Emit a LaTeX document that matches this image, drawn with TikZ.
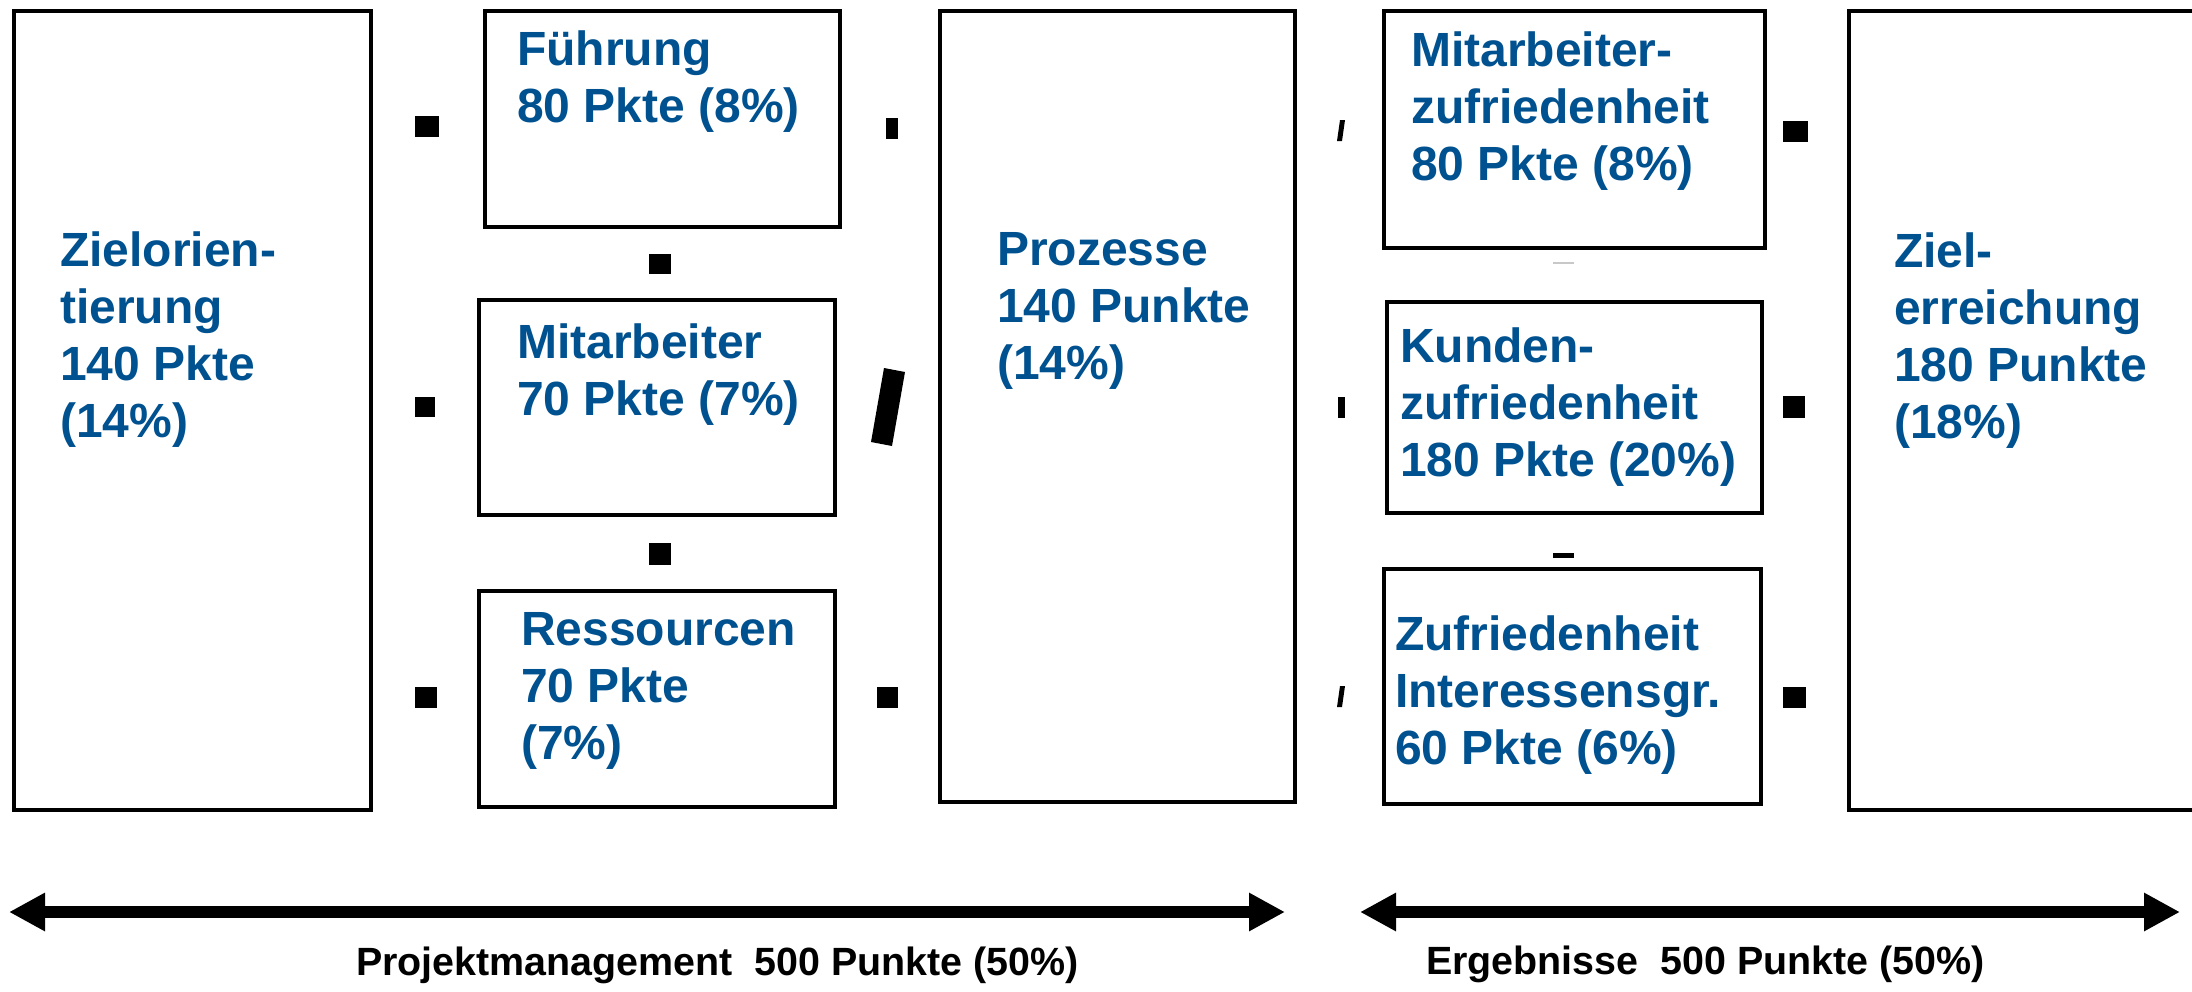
\documentclass[tikz,border=0pt]{standalone}
\usepackage{fontspec}
\setmainfont{Liberation Sans}
\usetikzlibrary{arrows.meta}
\definecolor{titleblue}{HTML}{00518F}
\definecolor{faintgrey}{HTML}{C8C8C8}
\tikzset{
  box/.style={draw=black, line width=4.5pt, rectangle, inner sep=0pt},
  bluelabel/.style={anchor=north west, inner sep=0pt, align=left,
    text=titleblue, font=\bfseries\fontsize{48}{57}\selectfont,
    execute at begin node={\rule{0pt}{40pt}}},
  sumlabel/.style={anchor=base west, inner sep=0pt,
    font=\bfseries\fontsize{39.4}{47}\selectfont},
  blotch/.style={fill=black, draw=none},
  span/.style={line width=12pt,
    {Triangle[length=36pt,width=36pt]}-{Triangle[length=36pt,width=36pt]}}
}
\begin{document}
\begin{tikzpicture}[x=1pt,y=-1pt]
\useasboundingbox[fill=white] (0,0) rectangle (2192,991);

% frames
\node[box, minimum width=357pt, minimum height=799pt] (ziel) at (192.5,410.5) {};
\node[box, minimum width=355pt, minimum height=216pt] (fuehr) at (662.5,119) {};
\node[box, minimum width=356pt, minimum height=215pt] (mitarb) at (657,407.5) {};
\node[box, minimum width=356pt, minimum height=216pt] (ress) at (657,699) {};
\node[box, minimum width=355pt, minimum height=791pt] (proz) at (1117.5,406.5) {};
\node[box, minimum width=381pt, minimum height=237pt] (mazuf) at (1574.5,129.5) {};
\node[box, minimum width=375pt, minimum height=211pt] (kuzuf) at (1574.5,407.5) {};
\node[box, minimum width=377pt, minimum height=235pt] (igzuf) at (1572.5,686.5) {};
\node[box, minimum width=361pt, minimum height=799pt] (zerr) at (2029.5,410.5) {};

% texts inside the frames
\node[bluelabel] (tziel) at (60,232) {Zielorien-\\tierung\\140 Pkte\\(14\%)};
\node[bluelabel] (tfuehr) at (517,31) {Führung\\80 Pkte (8\%)};
\node[bluelabel] (tmitarb) at (517,324) {Mitarbeiter\\70 Pkte (7\%)};
\node[bluelabel] (tress) at (521,612) {Ressourcen\\70 Pkte\\(7\%)};
\node[bluelabel] (tproz) at (997,232) {Prozesse\\140 Punkte\\(14\%)};
\node[bluelabel] (tmazuf) at (1411,32) {Mitarbeiter-\\zufriedenheit\\80 Pkte (8\%)};
\node[bluelabel] (tkuzuf) at (1400,328) {Kunden-\\zufriedenheit\\180 Pkte (20\%)};
\node[bluelabel] (tigzuf) at (1395,616) {Zufriedenheit\\Interessensgr.\\60 Pkte (6\%)};
\node[bluelabel] (tzerr) at (1894,233) {Ziel-\\erreichung\\180 Punkte\\(18\%)};

% small marks between the frames
\fill[blotch] (415,116) rectangle (439,137);
\fill[blotch] (415,397) rectangle (435,417);
\fill[blotch] (415,687) rectangle (437,708);
\fill[blotch] (649,254) rectangle (671,274);
\fill[blotch] (649,543) rectangle (671,565);
\fill[blotch] (886,118) rectangle (898,139);
\fill[blotch] (884,368) -- (905,372) -- (892,446) -- (871,442) -- cycle;
\fill[blotch] (877,687) rectangle (898,708);
\fill[blotch] (1337,141) -- (1342,141) -- (1345,120) -- (1340,120) -- cycle;
\fill[blotch] (1338,397) rectangle (1345,418);
\fill[blotch] (1337,707) -- (1342,707) -- (1345,686) -- (1340,686) -- cycle;
\draw[faintgrey, line width=2.5pt] (1553,263) -- (1574,263);
\fill[blotch] (1553,553) rectangle (1574,558);
\fill[blotch] (1783,121) rectangle (1808,142);
\fill[blotch] (1783,396) rectangle (1805,418);
\fill[blotch] (1783,687) rectangle (1806,708);

% span arrows
\coordinate (pmL) at (9,912);
\coordinate (pmR) at (1285,912);
\coordinate (erL) at (1360,912);
\coordinate (erR) at (2180,912);
\draw[span] (pmL) -- (pmR);
\draw[span] (erL) -- (erR);

\node[sumlabel] (pmtext) at (356,975) {Projektmanagement\ \ 500 Punkte (50\%)};
\node[sumlabel] (ertext) at (1426,974) {Ergebnisse\ \ 500 Punkte (50\%)};
\end{tikzpicture}
\end{document}
